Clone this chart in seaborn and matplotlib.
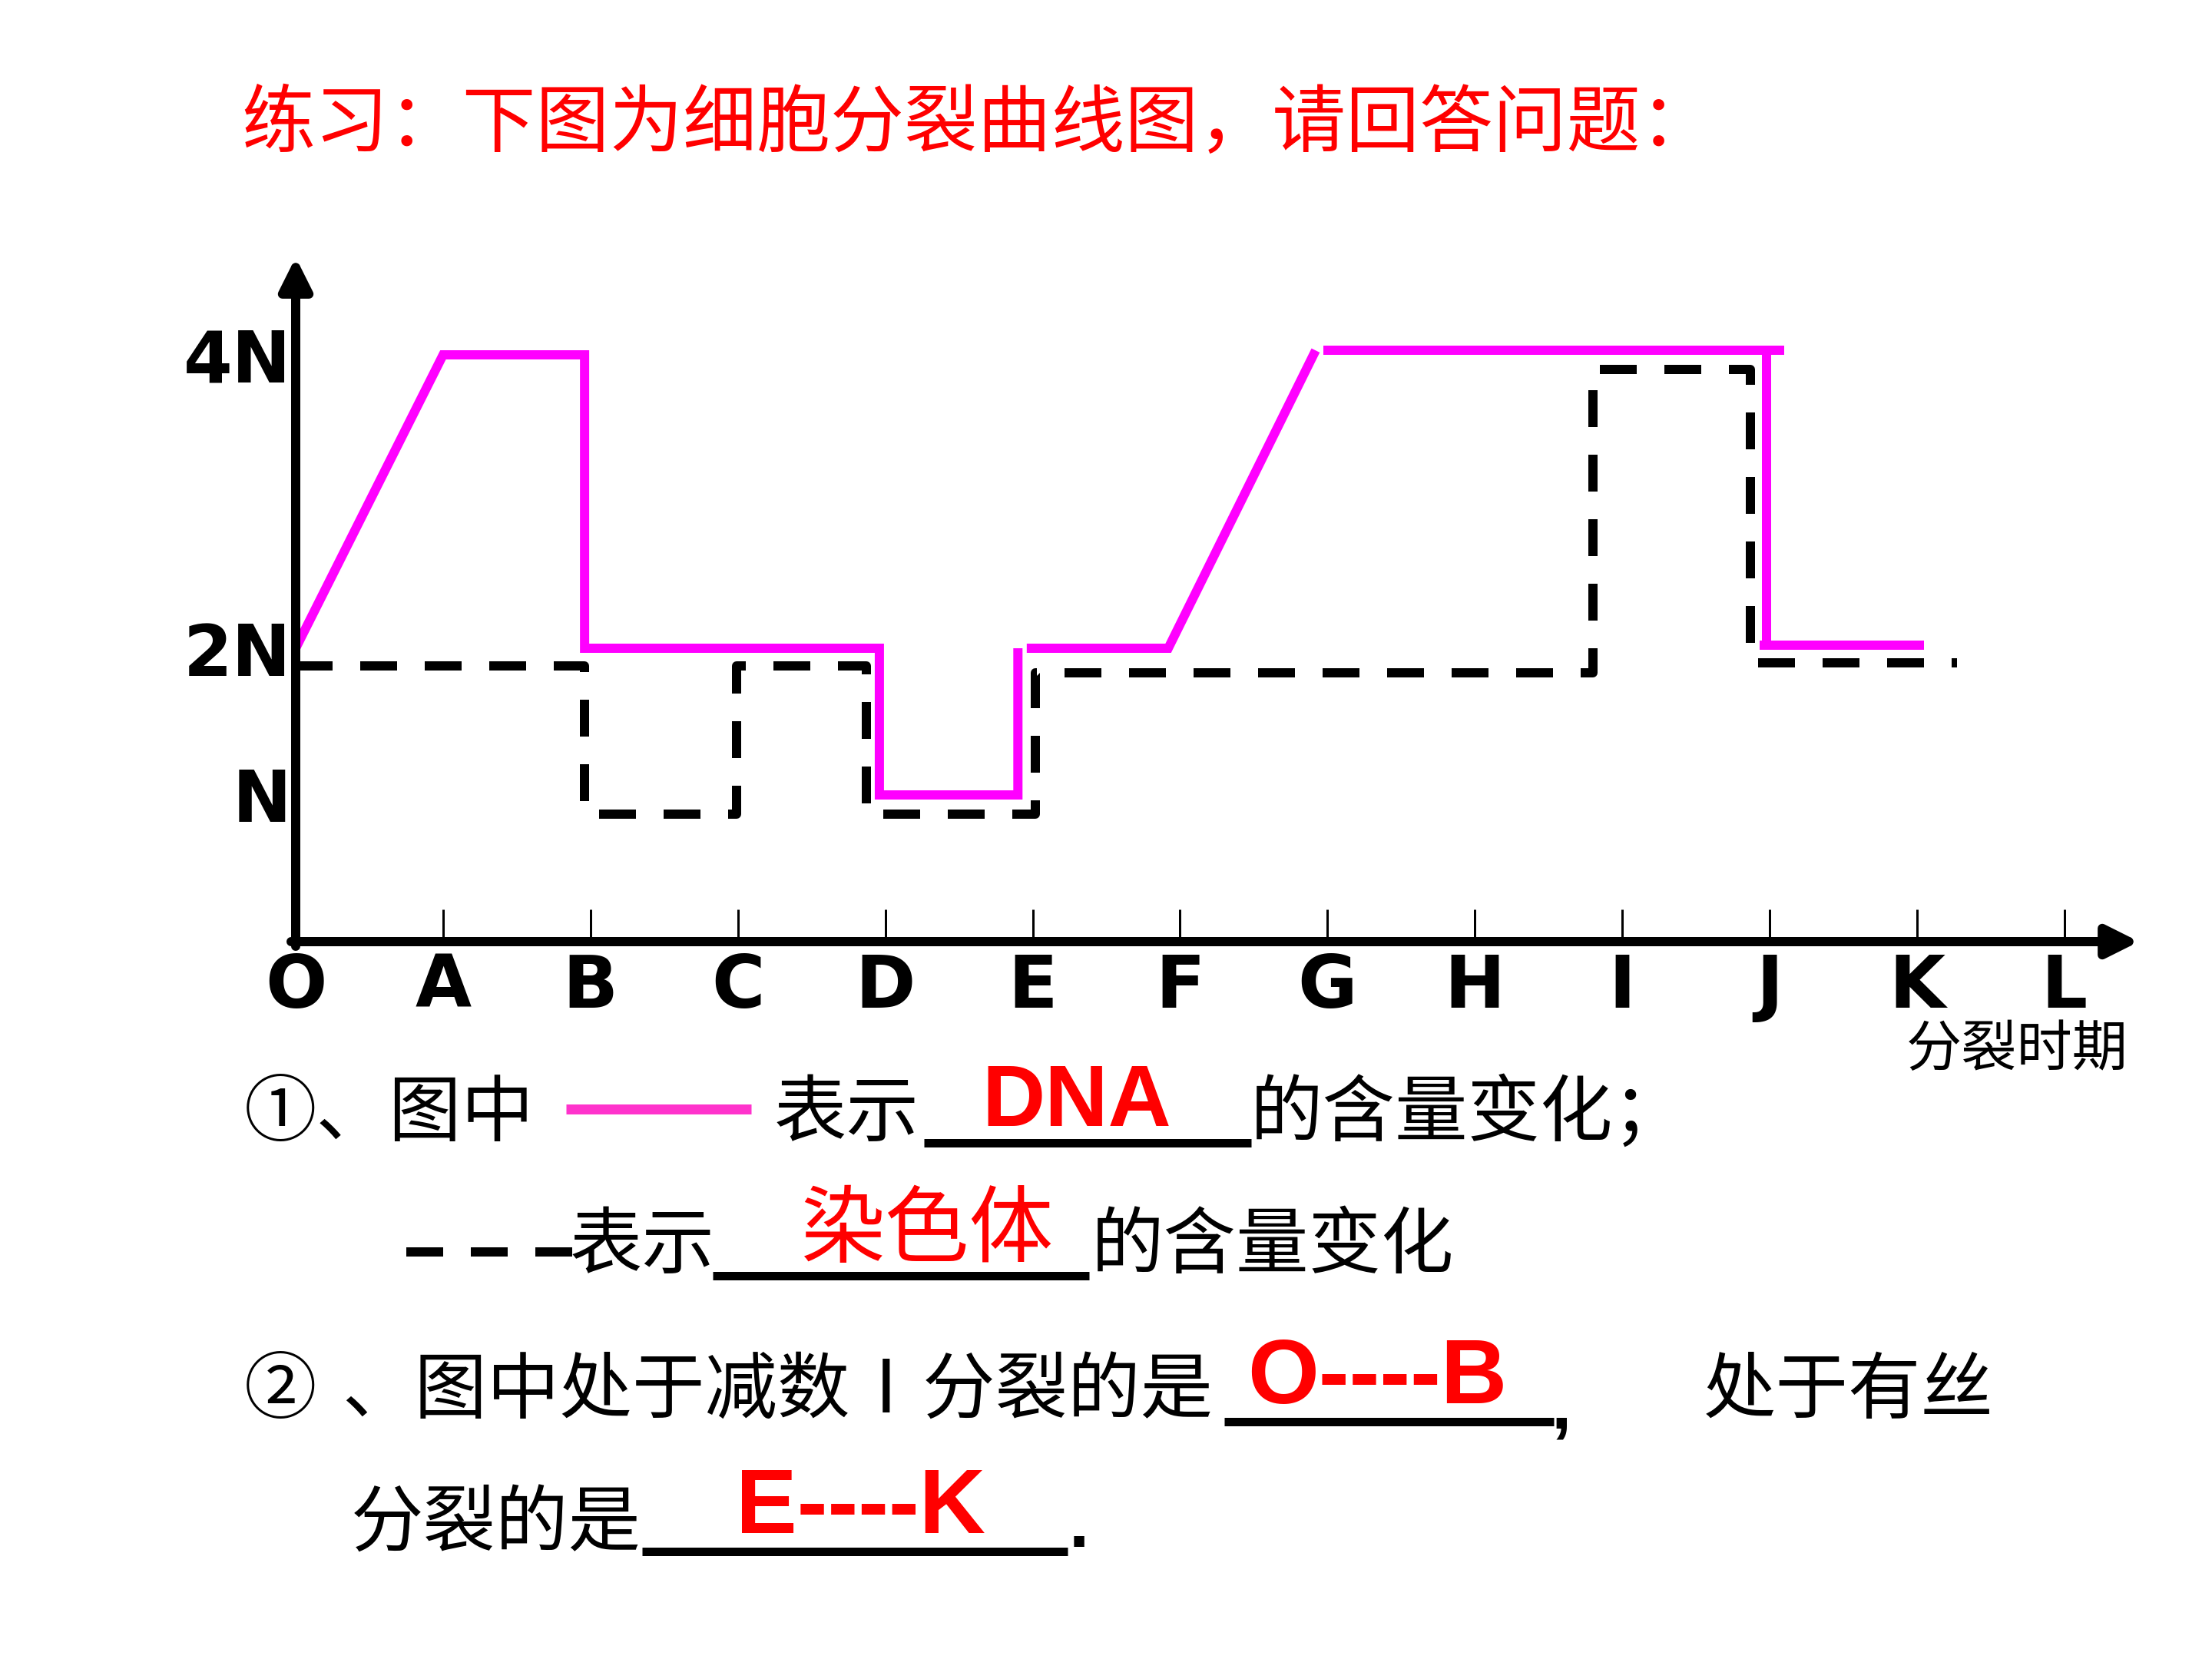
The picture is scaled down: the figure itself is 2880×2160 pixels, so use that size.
import numpy as np
import pandas as pd
import matplotlib
matplotlib.use("Agg")
import matplotlib.pyplot as plt
import seaborn as sns
from matplotlib.lines import Line2D

# ---------------- data ----------------
period_labels = ["O", "A", "B", "C", "D", "E", "F", "G", "H", "I", "J", "K", "L"]
level_ticks = [1, 2, 4]
level_labels = ["N", "2N", "4N"]

# DNA content (magenta solid line); x in period units (O=0 ... L=12), y in N units
dna_seg1_x = [0, 1, 1.96, 1.96, 3.96, 3.96, 4.9, 4.9]
dna_seg1_y = [2, 4, 4, 2, 2, 1, 1, 2]
dna_seg2_x = [4.96, 5.92, 6.92]
dna_seg2_y = [2, 2, 4.03]
dna_seg3_x = [6.97, 10.1]
dna_seg3_y = [4.03, 4.03]
dna_seg4_x = [9.98, 9.98]
dna_seg4_y = [4.03, 2.02]
dna_seg5_x = [9.93, 11.05]
dna_seg5_y = [2.02, 2.02]

# chromosome number (black dashed line)
chrom_x = [0, 1.96, 1.96, 2.99, 2.99, 3.87, 3.87, 5.02, 5.02, 8.8, 8.8, 9.87, 9.87, 11.27]
chrom_y = [1.88, 1.88, 0.87, 0.87, 1.88, 1.88, 0.87, 0.87, 1.83, 1.83, 3.9, 3.9, 1.9, 1.9]

title_text = "练习：下图为细胞分裂曲线图，请回答问题："
xaxis_name = "分裂时期"

# ---------------- style ----------------
sns.set_theme(style="white")
plt.rcParams["font.family"] = ["Noto Sans CJK SC", "DejaVu Sans"]

W, H, DPI = 2880, 2160, 200
fig = plt.figure(figsize=(W / DPI, H / DPI), dpi=DPI)
fig.patch.set_facecolor("white")

PX = 72.0 / DPI  # points per pixel

x0_px, y0_px = 385, 1226
unit_x, unit_y = 191.9, 191.0
x_end_px, y_top_px = 2785, 335
xmax = (x_end_px - x0_px) / unit_x
ymax = (y0_px - y_top_px) / unit_y

ax = fig.add_axes([x0_px / W, (H - y0_px) / H, (x_end_px - x0_px) / W, (y0_px - y_top_px) / H])
ax.set_xlim(0, xmax)
ax.set_ylim(0, ymax)
ax.set_facecolor("none")
for s in ax.spines.values():
    s.set_visible(False)

LW = 12 * PX
MAGENTA = "#FF00FF"

segs = [(dna_seg1_x, dna_seg1_y), (dna_seg2_x, dna_seg2_y), (dna_seg3_x, dna_seg3_y),
        (dna_seg4_x, dna_seg4_y), (dna_seg5_x, dna_seg5_y)]
dna_df = pd.concat([pd.DataFrame({"x": sx, "y": sy, "seg": i}) for i, (sx, sy) in enumerate(segs)],
                   ignore_index=True)
chrom_df = pd.DataFrame({"x": chrom_x, "y": chrom_y})

sns.lineplot(data=chrom_df, x="x", y="y", sort=False, estimator=None, color="black",
             lw=LW, linestyle=(0, (4, 3)), ax=ax, legend=False, zorder=3)
sns.lineplot(data=dna_df, x="x", y="y", units="seg", sort=False, estimator=None,
             color=MAGENTA, lw=LW, ax=ax, legend=False, zorder=4,
             solid_joinstyle="miter", solid_capstyle="butt")

# axes with arrows
arrow_kw = dict(arrowstyle="-|>", lw=12 * PX, color="black", mutation_scale=31,
                shrinkA=0, shrinkB=0)
ax.annotate("", xy=(xmax, 0), xytext=(-6 / unit_x, 0), xycoords="data",
            arrowprops=arrow_kw, annotation_clip=False, zorder=5)
ax.annotate("", xy=(0, ymax), xytext=(0, -6 / unit_y), xycoords="data",
            arrowprops=arrow_kw, annotation_clip=False, zorder=5)

ax.set_xticks(range(len(period_labels)))
ax.set_xticklabels(period_labels, fontfamily="DejaVu Sans", fontweight="bold", fontsize=34)
ax.tick_params(axis="x", direction="in", length=42 * PX, width=3 * PX, color="black",
               pad=5, bottom=True, labelcolor="black")
ax.set_yticks(level_ticks)
ax.set_yticklabels(level_labels, fontfamily="DejaVu Sans", fontweight="bold", fontsize=33)
ax.tick_params(axis="y", length=0, pad=2, left=True, labelcolor="black")
ax.set_xlabel("")
ax.set_ylabel("")
ax.grid(False)


def fx(x):
    return x / W


def fy(y):
    return 1 - y / H


CJK = ["Noto Sans CJK SC", "DejaVu Sans"]


def txt(x, y, s, size=34, color="black", ha="left", family=CJK, weight="normal"):
    fig.text(fx(x), fy(y), s, fontsize=size, color=color, ha=ha, va="center",
             family=family, fontweight=weight)


def hline(x1, x2, y, lw_px=11, color="black", ls="-"):
    fig.add_artist(Line2D([fx(x1), fx(x2)], [fy(y), fy(y)], lw=lw_px * PX, color=color,
                          linestyle=ls, solid_capstyle="butt", dash_capstyle="butt",
                          transform=fig.transFigure))


DY = 9  # vertical correction for CJK text centring

# title
txt(314, 153 + DY, title_text, size=34.5, color="red")

# x-axis name
txt(2482, 1362 + 6, xaxis_name, size=26)

RED_FONT = ["Liberation Sans", "DejaVu Sans"]

# line 1
txt(318, 1442 + DY, "①、图中")
hline(737, 978, 1444, lw_px=13, color="#FF33CC")
txt(1008, 1442 + DY, "表示")
hline(1203, 1629, 1488)
txt(1402, 1429 + 8, "DNA", size=41, color="red", ha="center", family=RED_FONT, weight="bold")
txt(1628, 1442 + DY, "的含量变化；")

# line 2
hline(529, 745, 1630, lw_px=12, ls=(0, (4, 3)))
txt(742, 1614 + DY, "表示")
hline(928, 1418, 1661)
txt(1207, 1594 + 10, "染色体", size=39.5, color="red", ha="center")
txt(1421, 1614 + DY, "的含量变化")

# line 3
txt(318, 1803 + DY, "②")
txt(445, 1803 + DY, "、图中处于减数Ⅰ分裂的是")
hline(1594, 2023, 1851)
txt(1793, 1788 + 8, "O----B", size=43, color="red", ha="center", family=RED_FONT, weight="bold")
txt(2020, 1835, ",", size=34, family=RED_FONT, weight="bold")
txt(2218, 1803 + DY, "处于有丝")

# line 4
txt(457, 1976 + DY, "分裂的是")
hline(836, 1390, 2020)
txt(1120, 1958 + 8, "E----K", size=43, color="red", ha="center", family=RED_FONT, weight="bold")
txt(1392, 1990, ".", size=34, family=RED_FONT, weight="bold")

fig.savefig("out.png", dpi=DPI, facecolor="white")
